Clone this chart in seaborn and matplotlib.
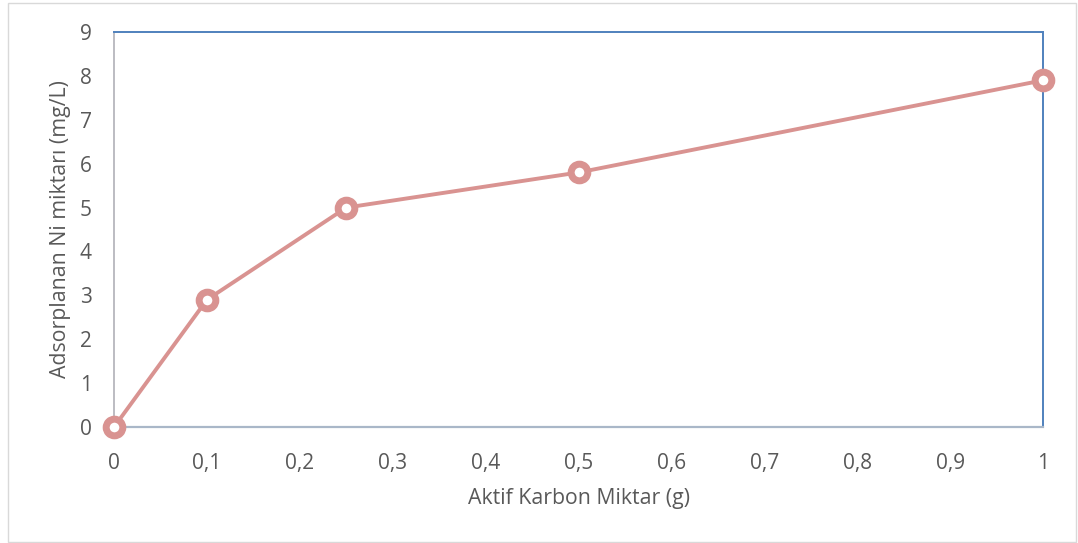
import matplotlib
matplotlib.use("Agg")
import matplotlib.pyplot as plt
import seaborn as sns
import pandas as pd
from matplotlib.patches import Rectangle

# data
karbon_g = [0, 0.1, 0.25, 0.5, 1]
ni_mg_l = [0, 2.9, 5.0, 5.8, 7.9]
x_ticks = [0, 0.1, 0.2, 0.3, 0.4, 0.5, 0.6, 0.7, 0.8, 0.9, 1]
x_tick_labels = ["0", "0,1", "0,2", "0,3", "0,4", "0,5", "0,6", "0,7", "0,8", "0,9", "1"]
y_ticks = list(range(0, 10))

df = pd.DataFrame({"karbon": karbon_g, "ni": ni_mg_l})

sns.set_style("white")
plt.rcParams["font.family"] = ["Open Sans", "DejaVu Sans"]

text_col = "#595959"
line_col = "#d99391"

fig = plt.figure(figsize=(10.78, 5.43), dpi=100)
ax = fig.add_axes([0.1058, 0.2136, 0.8617, 0.7274])

sns.lineplot(data=df, x="karbon", y="ni", ax=ax, color=line_col, linewidth=2.8,
             marker="o", markersize=12, markeredgewidth=5,
             markerfacecolor="white", markeredgecolor=line_col, clip_on=False, zorder=5)

ax.set_xlim(0, 1)
ax.set_ylim(0, 9)
ax.set_xticks(x_ticks)
ax.set_xticklabels(x_tick_labels)
ax.set_yticks(y_ticks)
ax.tick_params(axis="x", length=0, labelsize=15, colors=text_col, pad=19)
ax.tick_params(axis="y", length=0, labelsize=15, colors=text_col, pad=16)

ax.set_xlabel("Aktif Karbon Miktar (g)", fontsize=15.3, color=text_col, labelpad=10)
ax.set_ylabel("Adsorplanan Ni miktarı (mg/L)", fontsize=15.3, color=text_col, labelpad=6)

for side in ["top", "right"]:
    ax.spines[side].set_visible(True)
    ax.spines[side].set_color("#4f81bd")
    ax.spines[side].set_linewidth(1.4)
ax.spines["left"].set_color("#b0b0b8")
ax.spines["left"].set_linewidth(1.2)
ax.spines["bottom"].set_color("#a9b7c8")
ax.spines["bottom"].set_linewidth(1.6)

# light frame around the whole chart
fig.patches.append(Rectangle((8 / 1078, 1 / 543), 1068 / 1078, 539 / 543,
                             transform=fig.transFigure, fill=False,
                             edgecolor="#d9d9d9", linewidth=1.0))

fig.savefig("out.png", dpi=100)
